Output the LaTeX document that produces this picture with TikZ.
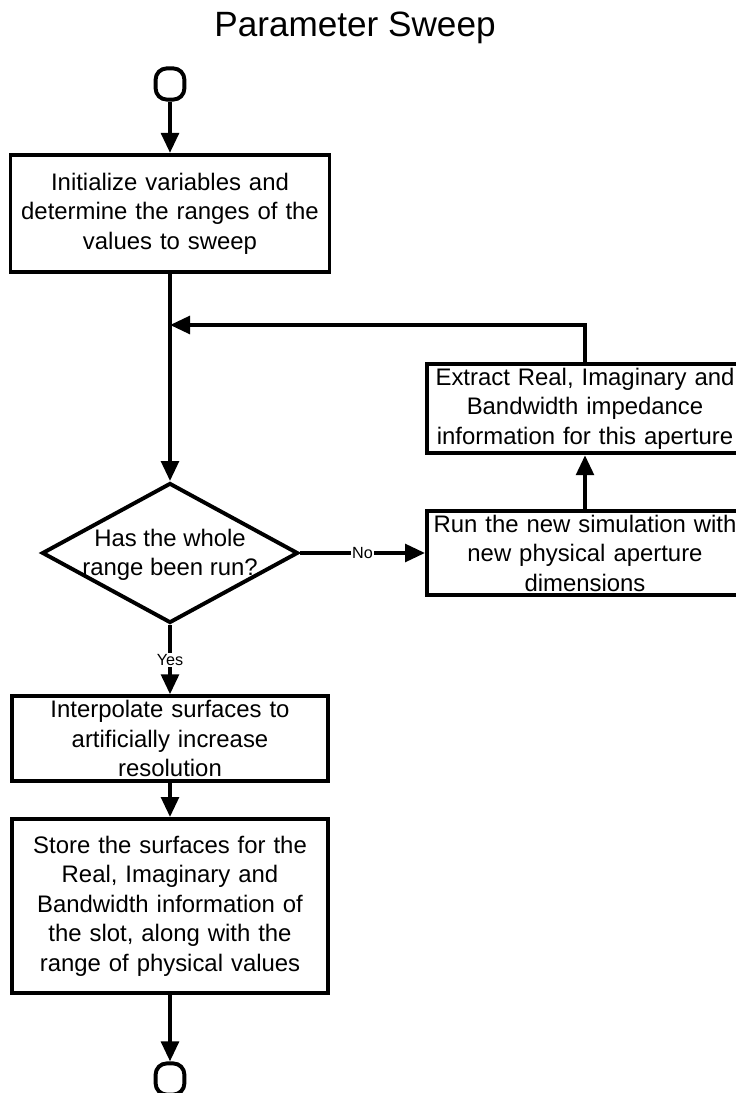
\documentclass[tikz,border=0pt]{standalone}
\usepackage{fontspec}
\setmainfont{Liberation Sans}
\usepackage{xcolor}
\definecolor{swink}{HTML}{000000}
\definecolor{swbg}{HTML}{FFFFFF}
\usepackage{tikz}
\usetikzlibrary{arrows.meta,shapes.geometric}
\tikzset{
  swbox/.style   ={rectangle, draw=swink, fill=swbg, line width=2.8pt,
                   inner sep=0.1cm, align=center, text=swink,
                   font=\fontsize{17}{21}\selectfont},
  swterm/.style  ={rectangle, rounded corners=0.28cm, draw=swink, fill=swbg,
                   line width=2.8pt, minimum width=0.72cm, minimum height=0.78cm,
                   inner sep=0pt},
  swdecide/.style={diamond, draw=swink, fill=swbg, line width=2.8pt,
                   minimum width=6.4cm, minimum height=3.5cm, inner sep=0pt},
  swtext/.style  ={align=center, text=swink, font=\fontsize{17}{21}\selectfont},
  swarrow/.style ={-{Triangle[length=0.5cm,width=0.44cm]}, line width=2.8pt, draw=swink},
  swlbl/.style   ={fill=swbg, inner sep=1pt, text=swink, font=\fontsize{11.5}{13}\selectfont},
}

\begin{document}
\begin{tikzpicture}
  \path[fill=swbg, use as bounding box] (0,0) rectangle (18.4,27.325);
  \node[anchor=base, text=swink, font=\fontsize{25}{30}\selectfont] (title) at (8.875,26.4) {Parameter Sweep};
  % main column
  \node[swterm] (start) at (4.25,25.225) {};
  \node[swbox, minimum width=7.975cm, minimum height=2.925cm, text width=7.775cm] (init) at (4.25,21.99)
    {Initialize variables and\\determine the ranges of the\\values to sweep};
  \coordinate (join) at (4.25,19.2);
  \node[swdecide] (check) at (4.25,13.5) {};
  \node[swtext] (checktext) at (4.25,13.45) {Has the whole\\range been run?};
  \node[swbox, minimum width=7.9cm, minimum height=2.075cm, text width=7.7cm] (interp) at (4.25,8.86)
    {Interpolate surfaces to\\artificially increase\\resolution};
  \node[swbox, minimum width=7.9cm, minimum height=4.35cm, text width=7.7cm] (store) at (4.25,4.675)
    {Store the surfaces for the\\Real, Imaginary and\\Bandwidth information of\\the slot, along with the\\range of physical values};
  \node[swterm] (finish) at (4.25,0.35) {};
  % side branch
  \node[swbox, minimum width=7.9cm, minimum height=2.1cm, text width=7.7cm] (run) at (14.625,13.5)
    {Run the new simulation with\\new physical aperture\\dimensions};
  \node[swbox, minimum width=7.9cm, minimum height=2.175cm, text width=7.7cm] (extract) at (14.625,17.11)
    {Extract Real, Imaginary and\\Bandwidth impedance\\information for this aperture};
  % connectors
  \draw[swarrow] (start) -- (init);
  \draw[swarrow] (init) -- (check);
  \draw[swarrow] (check.east) -- node[swlbl] {No} (run.west);
  \draw[swarrow] (run) -- (extract);
  \draw[swarrow] (extract.north) |- (join);
  \draw[swarrow] (check.south) -- node[swlbl] {Yes} (interp.north);
  \draw[swarrow] (interp) -- (store);
  \draw[swarrow] (store) -- (finish);
\end{tikzpicture}
\end{document}
